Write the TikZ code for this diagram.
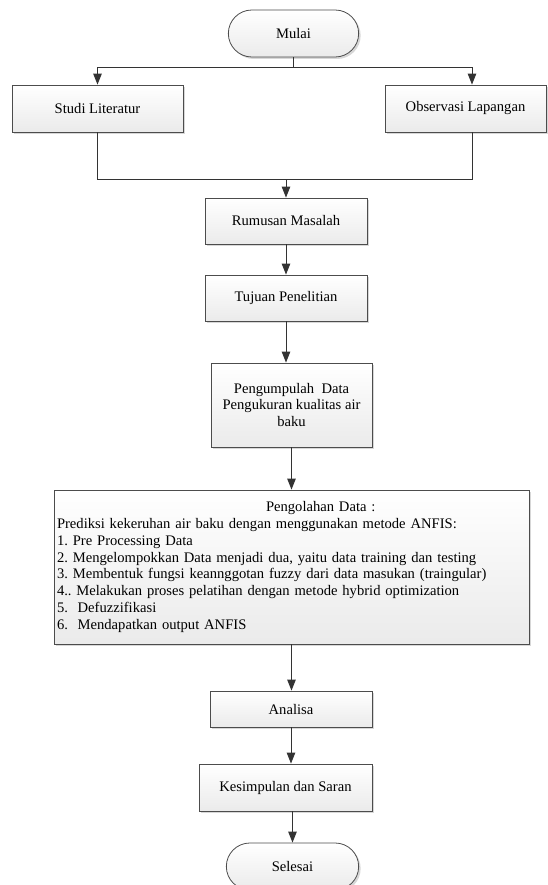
\documentclass[tikz,border=0pt]{standalone}
\usepackage{fontspec}
\setmainfont{Liberation Serif}
\usepackage{tikz}
\usetikzlibrary{arrows.meta,shapes.misc,shadows}
\frenchspacing

\begin{document}
\begin{tikzpicture}[x=1pt,y=-1pt,
		every node/.style={font=\fontsize{14.6}{16.8}\selectfont},
		box/.style={rectangle, draw=gray!60!black, line width=0.8pt, top color=white, bottom color=gray!16,
			drop shadow={shadow xshift=2pt,shadow yshift=-2pt,fill=gray!45,opacity=0.7}},
		term/.style={box, rounded rectangle},
		arr/.style={draw=black!80, line width=1pt, -{Triangle[length=11pt,width=8.5pt]}},
		ln/.style={draw=black!80, line width=1pt}]
			\useasboundingbox (0,0) rectangle (548,885);
			\node[term, minimum width=137pt, minimum height=47pt] at (293.5,33.5) (mulai){Mulai};
			\node[box, minimum width=171pt, minimum height=47pt] at (97.5,108.5) (studi){Studi Literatur};
			\node[box, minimum width=161pt, minimum height=47pt] at (465.5,108.5) (obs){Observasi Lapangan};
			\node[box, minimum width=162pt, minimum height=46pt] at (286,221) (rumusan){Rumusan Masalah};
			\node[box, minimum width=162pt, minimum height=46pt] at (286,298) (tujuan){Tujuan Penelitian};
			\node[box, minimum width=161pt, minimum height=84pt, align=center] at (291.5,405) (kumpul){Pengumpulah\ \ Data\\Pengukuran kualitas air\\baku};
			\node[box, minimum width=475pt, minimum height=154pt, inner xsep=3pt, text width=469pt, align=left] at (291.5,567) (olah){\hspace*{209pt}Pengolahan Data :\\%
				Prediksi kekeruhan air baku dengan menggunakan metode ANFIS:\\%
				1. Pre Processing Data\\%
				2. Mengelompokkan Data menjadi dua, yaitu data training dan testing\\%
				3. Membentuk fungsi keannggotan fuzzy dari data masukan (traingular)\\%
				4.. Melakukan proses pelatihan dengan metode hybrid optimization\\%
				5.\ \ Defuzzifikasi\\%
				6.\ \ Mendapatkan output ANFIS};
			\node[box, minimum width=162pt, minimum height=36pt] at (291,709) (analisa){Analisa};
			\node[box, minimum width=173pt, minimum height=47pt] at (285.5,787.5) (simpul){Kesimpulan dan Saran};
			\node[term, minimum width=139pt, minimum height=47pt] at (292.5,866.5) (selesai){Selesai};
			% cabang atas
			\coordinate (split) at (293.5,68);
			\coordinate (merge) at (286,180);
			\draw[ln] (mulai.south) -- (split);
			\draw[arr] (split) -| (studi.north);
			\draw[arr] (split) -| ([xshift=6.5pt]obs.north);
			\draw[ln] (studi.south) |- (merge);
			\draw[ln] ([xshift=6.5pt]obs.south) |- (merge);
			\draw[arr] (merge) -- (rumusan.north);
			% alur utama
			\draw[arr] (rumusan.south) -- (tujuan.north);
			\draw[arr] (tujuan.south) -- (tujuan.south |- kumpul.north);
			\draw[arr] (kumpul.south) -- (olah.north);
			\draw[arr] (olah.south) -- (olah.south |- analisa.north);
			\draw[arr] (analisa.south) -- (analisa.south |- simpul.north);
			\draw[arr] (selesai.north |- simpul.south) -- (selesai.north);
		\end{tikzpicture}
\end{document}
